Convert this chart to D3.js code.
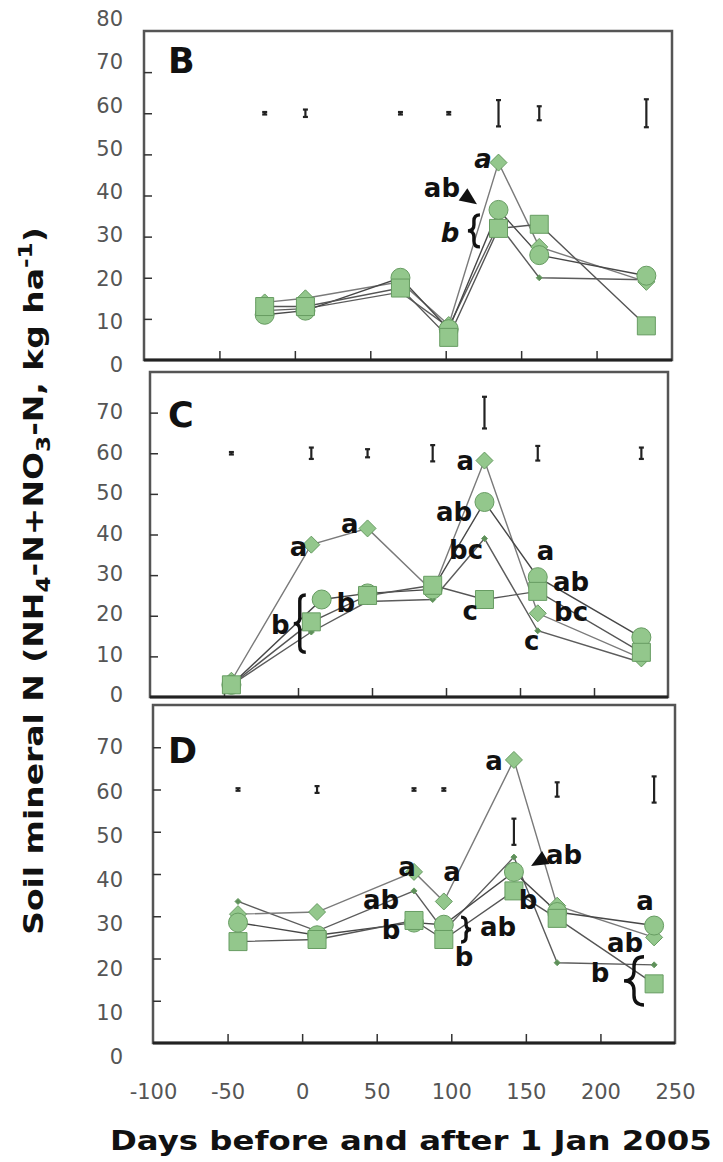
<!DOCTYPE html>
<html><head><meta charset="utf-8">
<script src="https://cdn.jsdelivr.net/npm/d3@7"></script>
<style>body{margin:0;background:#fff}svg{display:block}</style>
</head><body>
<svg id="chart" width="723" height="1162"></svg>
<script>
// ---------- data ----------
const xTicks = [-50, 0, 50, 100, 150, 200];
const xTickLabels = [-100, -50, 0, 50, 100, 150, 200, 250];
const yTicks = [10, 20, 30, 40, 50, 60, 70];
const yLabelsB = [0, 10, 20, 30, 40, 50, 60, 70, 80];
const yLabelsCD = [0, 10, 20, 30, 40, 50, 60, 70];
const seriesShapes = ["small", "diamond", "circle", "square"];

// Panel B
const daysB = [-20, 7, 70, 102, 135, 162, 233];
const smallB = [12, 12.5, 16.5, 8, 33, 20, 19.5];
const diamondB = [14, 15, 19, 8.5, 48, 27.5, 19];
const circleB = [11, 12, 20, 7.5, 36.5, 25.5, 20.5];
const squareB = [13, 13, 17.5, 5.5, 32, 33, 8.3];
const lsdB = [0.3, 0.9, 0.3, 0.3, 3.2, 1.7, 3.4];
const lsdMidB = [60, 60, 60, 60, 60, 60, 60];

// Panel C
const daysC = [-45, 9, 47, 91, 126, 162, 232];
const circleDaysC = [-45, 16, 47, 91, 126, 162, 232];
const smallC = [3, 16, 23.5, 24, 39, 16.3, 8.5];
const diamondC = [4, 37.5, 41.5, 26, 58.2, 20.6, 9.5];
const circleC = [3, 24, 25.5, 26.5, 48, 29.5, 14.7];
const squareC = [3, 18.5, 25, 27.5, 24, 26, 11];
const lsdC = [0.3, 1.4, 1.0, 2.0, 3.9, 1.8, 1.4];
const lsdMidC = [60, 60, 60, 60, 70, 60, 60];

// Panel D
const daysD = [-43, 10, 75, 95, 142, 171, 236];
const smallD = [33.5, 26.5, 36, 26.5, 44, 19, 18.5];
const diamondD = [30.5, 31, 40.5, 33.5, 67, 32.5, 25];
const circleD = [28.5, 25.5, 28.5, 28, 40.5, 31, 27.8];
const squareD = [24, 24.5, 29, 24.5, 36, 29.5, 14];
const lsdD = [0.3, 0.8, 0.3, 0.3, 3.1, 1.7, 3.1];
const lsdMidD = [60, 60, 60, 60, 50, 60, 60];

// significance letters (day, value of baseline)
const annB = [
  {t: "a", x: 124.7, y: 46.7, it: true},
  {t: "ab", x: 97.5, y: 39.6},
  {t: "b", x: 102.8, y: 28.7, it: true}
];
const braceB = [{x: 118.7, y0: 35.3, y1: 27.5, dir: "{", w: 12}];
const arrowB = [{x: 120.7, y: 37.9, ang: 35}];

const annC = [
  {t: "a", x: 0.3, y: 34.7}, {t: "a", x: 35, y: 40.4},
  {t: "ab", x: 105.5, y: 43.3}, {t: "a", x: 113, y: 55.9},
  {t: "bc", x: 113.6, y: 34}, {t: "c", x: 116.4, y: 19},
  {t: "a", x: 167.3, y: 33.7}, {t: "ab", x: 184.5, y: 26.1},
  {t: "bc", x: 184.5, y: 18.7}, {t: "c", x: 157.9, y: 11.6},
  {t: "b", x: 32.3, y: 20.9}, {t: "b", x: -12, y: 15.5}
];
const braceC = [{x: 1.2, y0: 25.1, y1: 11, dir: "{", w: 12}];
const arrowC = [];

const annD = [
  {t: "a", x: 128.6, y: 64.6}, {t: "a", x: 70.3, y: 39.5},
  {t: "a", x: 100.5, y: 38.3}, {t: "ab", x: 52.9, y: 31.7},
  {t: "b", x: 59.6, y: 24.6}, {t: "ab", x: 131.3, y: 25.3},
  {t: "b", x: 108.5, y: 18.2}, {t: "ab", x: 175.6, y: 42.4},
  {t: "b", x: 151.4, y: 31.7}, {t: "a", x: 229.9, y: 31.5},
  {t: "ab", x: 216.5, y: 21.5}, {t: "b", x: 199.7, y: 14.4}
];
const braceD = [
  {x: 109.9, y0: 29.8, y1: 23.9, dir: "}", w: 10},
  {x: 222.5, y0: 20.4, y1: 9, dir: "{", w: 20}
];
const arrowD = [{x: 153.5, y: 41.9, ang: 150}];

// ---------- layout ----------
const panels = [
  {id: "B", days: [daysB, daysB, daysB, daysB], vals: [smallB, diamondB, circleB, squareB], lsdDays: daysB, lsd: lsdB, mid: lsdMidB,
   ann: annB, braces: braceB, arrows: arrowB, labels: yLabelsB,
   fr: {l: 144, r: 672, t: 31, b: 360}, lab: [365, 19], labDom: [0, 80], letterY: 73},
  {id: "C", days: [daysC, daysC, circleDaysC, daysC], vals: [smallC, diamondC, circleC, squareC], lsdDays: daysC, lsd: lsdC, mid: lsdMidC,
   ann: annC, braces: braceC, arrows: arrowC, labels: yLabelsCD,
   fr: {l: 150, r: 668, t: 372, b: 697}, lab: [695, 412], labDom: [0, 70], letterY: 427},
  {id: "D", days: [daysD, daysD, daysD, daysD], vals: [smallD, diamondD, circleD, squareD], lsdDays: daysD, lsd: lsdD, mid: lsdMidD,
   ann: annD, braces: braceD, arrows: arrowD, labels: yLabelsCD,
   fr: {l: 153, r: 675, t: 705, b: 1043}, lab: [1057, 747], labDom: [0, 70], letterY: 763}
];

const FILL = "#93c78c", STROKE = "#679c62";
const lineColors = {small: "#5c5c5c", diamond: "#7a7a7a", circle: "#474747", square: "#555"};
const FONT = "'DejaVu Sans', Verdana, sans-serif";

const svg = d3.select("#chart");

function bracePath(cx, y0, y1, w, dir) {
  const s = dir === "{" ? 1 : -1;
  const xa = cx + s * w / 2, xt = cx - s * w / 2, xm = cx;
  const ym = (y0 + y1) / 2, h = Math.abs(y1 - y0);
  const r = Math.min(w / 2, h / 5);
  const p = d3.path();
  p.moveTo(xa, y0);
  p.quadraticCurveTo(xm, y0, xm, y0 + r);
  p.lineTo(xm, ym - r);
  p.quadraticCurveTo(xm, ym, xt, ym);
  p.quadraticCurveTo(xm, ym, xm, ym + r);
  p.lineTo(xm, y1 - r);
  p.quadraticCurveTo(xm, y1, xa, y1);
  return p.toString();
}

function markerPath(shape) {
  const p = d3.path();
  if (shape === "diamond" || shape === "small") {
    const h = shape === "diamond" ? 8.5 : 3;
    p.moveTo(0, -h); p.lineTo(h, 0); p.lineTo(0, h); p.lineTo(-h, 0); p.closePath();
  } else if (shape === "circle") {
    p.arc(0, 0, 9.5, 0, 2 * Math.PI);
  } else {
    p.rect(-9, -9, 18, 18);
  }
  return p.toString();
}

let xD;
panels.forEach(P => {
  const f = P.fr;
  const x = d3.scaleLinear().domain([-100, 250]).range([f.l, f.r]);
  const y = d3.scaleLinear().domain([0, 80]).range([f.b, f.t]);
  if (P.id === "D") xD = x;
  const g = svg.append("g");

  // frame
  g.append("rect").attr("x", f.l).attr("y", f.t).attr("width", f.r - f.l).attr("height", f.b - f.t)
    .attr("fill", "none").attr("stroke", "#555").attr("stroke-width", 2.5);

  // y ticks (inward)
  const ya = g.append("g").attr("transform", `translate(${f.l},0)`)
    .call(d3.axisLeft(y).tickValues(yTicks).tickSize(-8).tickFormat(""));
  ya.select(".domain").remove();
  ya.selectAll("line").attr("stroke", "#333").attr("stroke-width", 1.5);

  // x ticks (inward)
  const xa = g.append("g").attr("transform", `translate(0,${f.b})`)
    .call(d3.axisBottom(x).tickValues(xTicks).tickSize(-9).tickFormat(""));
  xa.select(".domain").remove();
  xa.selectAll("line").attr("stroke", "#333").attr("stroke-width", 1.5);

  // bottom axis line
  g.append("line").attr("x1", f.l).attr("x2", f.r).attr("y1", y(0)).attr("y2", y(0))
    .attr("stroke", "#222").attr("stroke-width", 2.8);

  // y tick labels
  const ls = d3.scaleLinear().domain(P.labDom).range(P.lab);
  const la = g.append("g").attr("transform", "translate(123,0)")
    .call(d3.axisLeft(ls).tickValues(P.labels).tickSize(0).tickPadding(0).tickFormat(d => String(d)));
  la.select(".domain").remove();
  la.selectAll("text").attr("font-family", FONT).attr("font-size", 21).attr("fill", "#555");

  // series lines
  const line = d3.line().x(d => x(d[0])).y(d => y(d[1]));
  const seriesPts = P.vals.map((vals, i) => P.days[i].map((d, j) => [d, vals[j]]));
  seriesPts.forEach((pts, i) => {
    g.append("path").attr("d", line(pts)).attr("fill", "none")
      .attr("stroke", lineColors[seriesShapes[i]]).attr("stroke-width", 1.4);
  });
  // markers
  seriesPts.forEach((pts, i) => {
    const shape = seriesShapes[i];
    g.selectAll(null).data(pts).join("path")
      .attr("d", markerPath(shape))
      .attr("transform", d => `translate(${x(d[0])},${y(d[1])})`)
      .attr("fill", shape === "small" ? "#5f8f5a" : FILL)
      .attr("stroke", STROKE).attr("stroke-width", 1);
  });

  // LSD bars
  const eb = g.append("g").attr("stroke", "#222").attr("stroke-width", 2.2);
  P.lsdDays.forEach((d, j) => {
    const cx = x(d), y0 = y(P.mid[j] - P.lsd[j]), y1 = y(P.mid[j] + P.lsd[j]);
    eb.append("line").attr("x1", cx).attr("x2", cx).attr("y1", y0).attr("y2", y1);
    eb.append("line").attr("x1", cx - 2.5).attr("x2", cx + 2.5).attr("y1", y0).attr("y2", y0);
    eb.append("line").attr("x1", cx - 2.5).attr("x2", cx + 2.5).attr("y1", y1).attr("y2", y1);
  });

  // letters
  g.selectAll(null).data(P.ann).join("text")
    .attr("x", d => x(d.x)).attr("y", d => y(d.y))
    .attr("text-anchor", "middle").attr("font-family", FONT).attr("font-weight", "bold")
    .attr("font-size", 26).attr("font-style", d => d.it ? "italic" : "normal")
    .attr("fill", "#111").text(d => d.t);

  // braces
  P.braces.forEach(b => {
    g.append("path").attr("d", bracePath(x(b.x), y(b.y0), y(b.y1), b.w, b.dir))
      .attr("fill", "none").attr("stroke", "#111").attr("stroke-width", 3.4);
  });
  // arrow heads
  P.arrows.forEach(a => {
    const tx = x(a.x), ty = y(a.y), t = a.ang * Math.PI / 180;
    const ux = Math.cos(t), uy = Math.sin(t), L = 17, H = 7.5;
    const bx = tx - ux * L, by = ty - uy * L;
    const pts = [[tx, ty], [bx - uy * H, by + ux * H], [bx + uy * H, by - ux * H]];
    g.append("path").attr("d", "M" + pts.join("L") + "Z").attr("fill", "#111");
  });

  // panel letter
  g.append("text").attr("x", 168).attr("y", P.letterY)
    .attr("font-family", FONT).attr("font-weight", "bold").attr("font-size", 35)
    .attr("fill", "#111").text(P.id);
});

// x tick labels under panel D
const xl = svg.append("g").attr("transform", "translate(0,1084)")
  .call(d3.axisBottom(xD).tickValues(xTickLabels).tickSize(0).tickPadding(0).tickFormat(d => String(d)));
xl.select(".domain").remove();
xl.selectAll("text").attr("font-family", FONT).attr("font-size", 21).attr("fill", "#555");

// x title
const xt = svg.append("text").attr("font-family", FONT).attr("font-weight", "bold")
  .attr("font-size", 27).attr("fill", "#111").text("Days before and after 1 Jan 2005");
{
  const w = xt.node().getComputedTextLength();
  xt.attr("transform", `translate(110,1150) scale(${602 / w},1)`);
}

// y title
const yt = svg.append("text").attr("font-family", FONT).attr("font-weight", "bold")
  .attr("font-size", 27).attr("fill", "#111").attr("text-anchor", "middle");
yt.append("tspan").text("Soil mineral N (NH");
yt.append("tspan").attr("font-size", 19).attr("dy", 7).text("4");
yt.append("tspan").attr("dy", -7).text("-N+NO");
yt.append("tspan").attr("font-size", 19).attr("dy", 7).text("3");
yt.append("tspan").attr("dy", -7).text("-N, kg ha");
yt.append("tspan").attr("font-size", 19).attr("dy", -11).text("-1");
yt.append("tspan").attr("dy", 11).text(")");
{
  const w = yt.node().getComputedTextLength();
  yt.attr("transform", `translate(43,581) rotate(-90) scale(${708 / w},1)`);
}
</script>
</body></html>
